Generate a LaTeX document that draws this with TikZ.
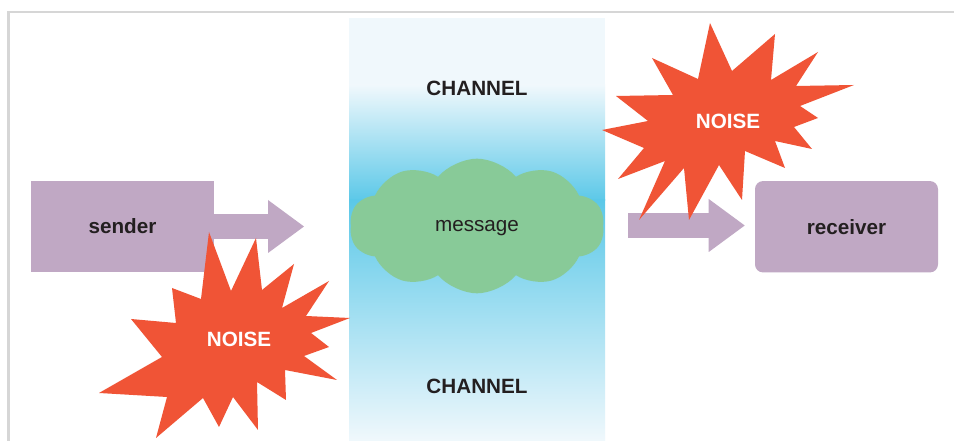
\documentclass[tikz,border=0pt]{standalone}
\usepackage{fontspec}
\setmainfont{Liberation Sans}
\usetikzlibrary{arrows.meta,shapes.symbols,positioning}
\definecolor{boxpurple}{RGB}{192,168,196}
\definecolor{noisered}{RGB}{240,84,54}
\definecolor{cloudgreen}{RGB}{136,202,152}
\definecolor{chancyan}{RGB}{91,200,232}
\definecolor{chanpale}{RGB}{240,248,252}
\definecolor{inkdark}{RGB}{35,31,32}
\definecolor{framegrey}{RGB}{214,214,214}
\tikzstyle{party}=[rectangle,fill=boxpurple,draw=none,text=inkdark,font=\bfseries\fontsize{15.5}{18}\selectfont,minimum width=137.25pt,minimum height=68.5pt,inner sep=0pt]
\tikzstyle{fatarrow}=[draw=boxpurple,line width=18.75pt,-{Triangle[length=27pt,width=39.75pt,line width=0pt]}]
\tikzstyle{noise}=[fill=noisered,draw=none]
\tikzstyle{noiselabel}=[text=white,font=\bfseries\fontsize{15.5}{18}\selectfont]
\tikzstyle{chanlabel}=[text=inkdark,font=\bfseries\fontsize{15.5}{18}\selectfont]

\begin{document}
\begin{tikzpicture}[x=0.75pt,y=-0.75pt]
\useasboundingbox (0,0) rectangle (954,441);
\clip (0,0) rectangle (954,441);
\fill[white] (0,0) rectangle (954,441);
\draw[framegrey,line width=1.9pt] (8.7,470) |- (990,12);
% channel
\fill[chanpale] (349,18) rectangle (605,86);
\shade[top color=chanpale,bottom color=chancyan] (349,85) rectangle (605,201);
\shade[top color=chancyan,bottom color=chanpale] (349,200) rectangle (605,441);
\node[chanlabel] (chtop) at (477,88) {CHANNEL};
\node[chanlabel] (chbot) at (477,386.5) {CHANNEL};
\node[cloud,cloud puffs=10,cloud puff arc=100,aspect=2,fill=cloudgreen,text=inkdark,text depth=0pt,
  font=\fontsize{15.5}{18}\selectfont,minimum width=191pt,minimum height=101pt,inner sep=0pt] (msg) at (477,226) {message};
% sender and receiver
\node[party] (sender) at (122.5,226.5) {sender};
\node[party,rounded corners=6pt] (receiver) at (846.5,226.75) {receiver};
\coordinate (sout) at (304,226.5);
\coordinate (rin) at (628,225.5);
\draw[fatarrow] (sender.east) -- (sout);
\draw[fatarrow,shorten >=7.5pt] (rin) -- (receiver.west |- rin);
% noise
\fill[noise] (209,232) -- (231,291) -- (256,238) -- (262,290) -- (294,264) -- (282,308) -- (329,281)
  -- (306,316) -- (350,318) -- (311,333) -- (329,347) -- (304,356) -- (337,380) -- (285,370)
  -- (286,400) -- (257,382) -- (258,430) -- (233,397) -- (219,427) -- (203,398) -- (156,438)
  -- (167,397) -- (99,393) -- (162,357) -- (131,319) -- (176,323) -- (172,288) -- (201,299) -- cycle;
\fill[noise] (710,23) -- (732,71) -- (775,34) -- (771,80) -- (818,52) -- (796,86) -- (854,85)
  -- (800,106) -- (818,118) -- (794,127) -- (812,149) -- (775,141) -- (785,168) -- (745,151)
  -- (742,200) -- (719,165) -- (689,220) -- (684,168) -- (639,220) -- (665,161) -- (618,179)
  -- (644,148) -- (602,130) -- (648,121) -- (616,96) -- (673,95) -- (652,58) -- (698,79) -- cycle;
\node[noiselabel] (noiseA) at (239,339.5) {NOISE};
\node[noiselabel] (noiseB) at (728,121.5) {NOISE};
\end{tikzpicture}
\end{document}
